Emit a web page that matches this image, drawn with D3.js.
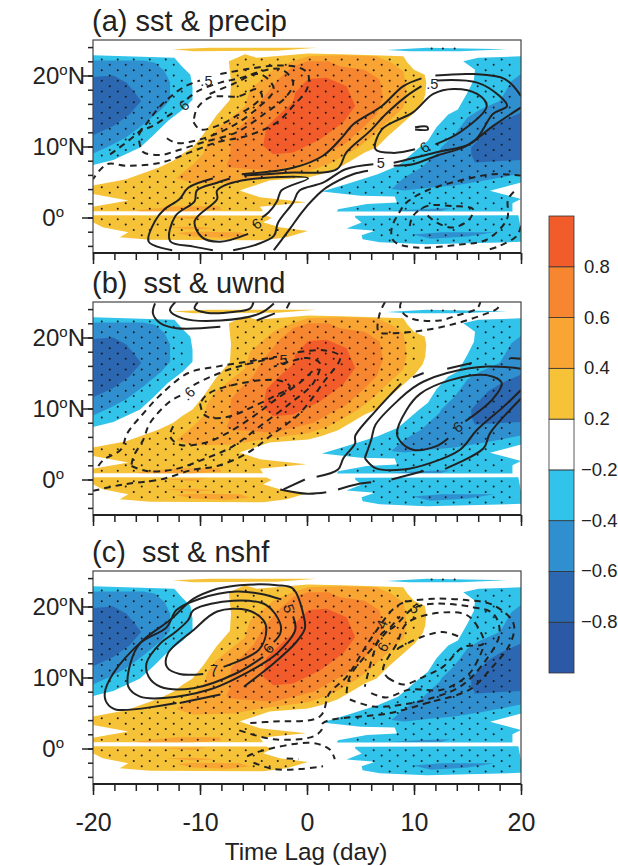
<!DOCTYPE html>
<html>
<head>
<meta charset="utf-8">
<script src="https://cdn.jsdelivr.net/npm/d3@7/dist/d3.min.js"></script>
<style>
    html, body { margin: 0; padding: 0; background: #fff; }
    text { font-family: "Liberation Sans", Arial, sans-serif; fill: #222; }
    .domain { display: none; }
    .tick line { stroke: #222; stroke-width: 1.5; }
</style>
</head>
<body>
<div id="chart"></div>
<script>

// sst lag correlation, contour outlines read as [ lag (day), lat (deg) ]

var sstPos02 = [
    [ [-5.8,23],[-4.7,22.5],[.1,23.1],[3.2,23],[6.3,22.85],[9,22.7],[9.4,21.8],[10,20.8],[11,20.1],[11.15,19],[11.05,17.3],[10.8,16.2],[10.06,14.8],[8.8,13.1],[7.6,11.5],[6.5,9.85],[5.4,9.15],[4.1,8],[2.9,6.95],[1.3,6.1],[.09,5.65],[-3.5,5.2],[-6.3,3.8],[-4.4,2.85],[-.06,2.14],[-4.4,1.5],[-4.1,.87],[-20,.87],[-20,1.5],[-16.7,2.4],[-20,3.3],[-20,4.5],[-16.9,5.4],[-13.9,7],[-12.5,8],[-11.6,9],[-10.7,9.85],[-9.7,11.7],[-8.5,14.3],[-7.2,16.6],[-7.1,19],[-7.3,22] ],
    [ [-20,.3],[-3.8,.27],[-3.3,-.06],[-4.1,-.66],[-2.55,-1.36],[.09,-1.9],[-1.9,-2.77],[-4.1,-3.2],[-14.7,-3.14],[-17.5,-2.77],[-16.7,-2.07],[-19.1,-1.36],[-20,-.66] ],
    [ [-12.55,23.7],[-9.1,23.9],[.9,23.9],[-2.8,23.5],[-10.6,23.4] ]
];

var sstPos04 = [
    [ [-5.33,18],[-3.15,20.8],[-1.3,22.05],[.09,22.7],[3.2,22.85],[6.5,22.7],[7.9,21.8],[9,20.6],[9.2,19],[9.3,17.3],[9,15.5],[8.3,14.5],[7.1,12.9],[6,11.3],[4.8,9.85],[3.2,8.45],[2,7.5],[.09,6.5],[-3.8,5.74],[-6.9,4.94],[-10.65,4.8],[-12.2,5.55],[-10.65,7.5],[-9.7,8.9],[-9.25,10.8],[-8.5,12.4],[-7.5,13.6],[-5.8,15.65] ],
    [ [-16,1],[-12.2,1.58],[-8.2,1.58],[-8,1.1],[-10.65,.88],[-15.6,.88] ],
    [ [-12.2,-2.2],[-10.65,-2],[-6.3,-2.06],[-5.35,-2.53],[-7.5,-2.86],[-10.65,-2.67] ],
    [ [-13.5,.05],[-9.4,.13],[-10.65,-.2] ],
    [ [-13.3,-1.36],[-10.65,-1.3],[-8.5,-1.5],[-10.65,-1.7] ]
];

var sstPos06 = [
    [ [.09,22],[2,22],[3.05,21.3],[5.4,20.8],[6.8,19.4],[7.1,16.9],[6.5,14.5],[5.07,12.4],[3.5,10.3],[2.8,9.85],[.6,8],[-3.15,6.6],[-7.35,7.06],[-7.5,7.5],[-7.2,8.45],[-7.1,11.3],[-6.3,12.7],[-5.05,14.5],[-4.1,16.9],[-2.55,19.7],[-1.3,21.3] ]
];

var sstPos08 = [
    [ [.12,19.5],[1.84,19.7],[3.7,18.5],[4.5,15.7],[3.4,13.4],[1.2,11],[-1.3,9.15],[-3.15,8.9],[-4.1,10.1],[-3.8,12.7],[-2.4,14.8],[-1.3,16.2],[-1.1,17.6] ]
];

var sstNeg02 = [
    [ [-20,22.85],[-12.4,22.5],[-11.7,21.3],[-10.9,20.1],[-10.7,18.3],[-10.7,16.6],[-11.6,15.2],[-13,13.6],[-14.4,11.5],[-15.6,9.85],[-18.1,8.1],[-20,7.4] ],
    [ [14.6,22],[16,22.5],[20,22.7],[20,4.93],[17.1,3.76],[20,2.6],[19.2,2],[19.2,.85],[2.8,.85],[2.9,1.17],[5.6,1.9],[8.4,2.1],[8.2,2.96],[5,3.05],[1.4,3.66],[4.1,4.9],[6.6,6.1],[8.5,7.3],[9.4,8.45],[10.5,9.85],[11.3,10.8],[12.1,12.7],[13.2,14.5],[14.1,15.2],[15,17.6],[15.6,19.4],[15.7,20.8] ],
    [ [4.5,.23],[19.75,.33],[20,-1.64],[20,-3.43],[11.2,-3.76],[6.8,-3.5],[5.2,-3.05],[5.1,-2.5],[6.35,-1.88],[3.7,-1.55],[5.1,-.7],[4.5,0] ],
    [ [7.45,23.6],[11.2,23.9],[18.7,23.7],[14.3,23.4],[9.6,23.4] ]
];

var sstNeg04 = [
    [ [-20,22.1],[-15.3,22.1],[-14.2,21.8],[-13.3,20.6],[-12.8,19],[-12.8,16.6],[-13.6,15.2],[-15.3,13.1],[-16.9,11.3],[-18.4,10.1],[-20,9] ],
    [ [20,20.2],[19.1,19.2],[18.5,17.6],[18,16.4],[16.2,15.2],[15,14.1],[13.8,11.7],[12.55,9.85],[12.4,9.4],[10.7,7.05],[9.1,5.65],[7.9,4],[9.1,3.8],[11.9,4.25],[13.8,4.5],[16.6,5.2],[20,6.2] ],
    [ [7.7,.9],[11,1.2],[13.4,1.3],[12.5,.9] ],
    [ [9.9,-2.4],[12.55,-2.07],[17.5,-2.07],[15.05,-2.67],[11.6,-3] ]
];

var sstNeg06 = [
    [ [-20,19.8],[-18.1,20],[-16.9,19],[-16.1,17.6],[-15.5,16.4],[-16.6,14.5],[-18.1,12.9],[-20,11.6] ],
    [ [20,14.8],[18.2,13.6],[16.9,12.4],[15.35,9.85],[15.35,8.9],[15.7,7.75],[20,8.1] ]
];

// overlay correlation lines, one list per panel

var precipSolid = [
    [ [-12.6,-4.6],[-14.8,-3.4],[-14.2,-.5],[-13.3,1.2],[-11.9,2.6],[-11.1,4.2],[-8.8,5.5] ],
    [ [-6.1,6.1],[-1.3,7],[1.5,8.7],[3.4,11.5],[4.3,13.1],[7,15.7],[9,18.5],[10.7,19.6] ],
    [ [12,20],[15.5,20.2],[18.5,19.5],[20,17.1] ],
    [ [-8.8,-4.6],[-10.6,-4.1],[-12.8,-3.3],[-12.3,.2],[-10.5,2.3],[-10.3,3.8],[-8.4,4.9],[-7.2,5.5] ],
    [ [-5.9,5.9],[-1.9,6.3],[2.8,6.8],[3.7,9.2],[5.9,12.2],[7.4,14.6],[9.3,17.1],[10.7,18.5] ],
    [ [12.1,19.3],[15.9,19],[18,17.1],[18.7,15.7],[17.4,14.6],[15.5,10.6],[12.1,9.2],[8.1,7.7] ],
    [ [-4.2,0],[-3.6,.7],[-2.8,2.3],[-2.4,3.8],[.1,5.5],[-6.1,5.2],[-8.4,3.8],[-8.4,2.6],[-10.5,-.5],[-9.8,-2.8],[-8.1,-3.4],[-5.5,-2.3] ],
    [ [-6.9,-4.6],[-4.7,-3.8],[-3.1,-2.6],[-2.7,-.7],[-1.3,2.1],[-.7,3.8],[1.5,4.9],[3.6,6.8],[6.2,7.5] ],
    [ [-3.1,-4.6],[-1.6,-1.6],[-.5,.7],[.6,2.6],[1.8,4.2],[4.3,6.1],[5.7,6.6] ],
    [ [8.1,7.3],[9.9,7.5],[12.1,8.7],[14.9,10.1],[17.4,12.9],[20,15.5] ],
    [ [12,10.3],[14.3,12],[16.8,15.7],[15.9,17.4],[13.7,18.1],[11.8,17.4],[9.9,14.8],[7,12.4],[6.4,9.6],[8.1,9.1],[10.1,9.6] ],
    [ [10.1,12.7],[11.2,12.8],[11.3,12.4],[10.1,12.4] ]
];

var precipDashed = [
    [ [-18.4,8.9],[-15.6,12.2],[-13.7,15.7],[-11.6,18.3],[-10,19.3] ],
    [ [-8.1,20.2],[-5.6,20.9],[-2.8,21.4],[-.7,21.1],[.1,20.2],[0,18.1],[-1.3,15.7],[-2.8,13.4],[-5.6,11.5],[-8.4,10.6],[-10.9,9.2],[-13.7,7.7],[-16.9,7.3],[-18.7,7.5],[-20,5.4] ],
    [ [-11.2,16.7],[-10.2,17.8],[-8.1,19],[-6.6,19.5],[-2.5,20.9],[-1.3,19],[-1.9,17.1],[-3.8,14.8],[-6.6,12],[-9.7,10.6],[-12.2,9.4],[-13.7,8.8],[-15.3,9.2],[-15.6,10.1],[-15.6,12],[-14.4,12.9],[-12.5,14.8] ],
    [ [-9.1,17.4],[-6.9,18.8],[-4.4,20.2],[-3.1,18.1],[-4.7,15.3],[-7.2,12.7],[-10,11],[-12.2,10.5],[-13.4,11.5] ],
    [ [-10.6,13.4],[-10,12.4],[-8.4,12.9],[-6.6,14.3],[-4.7,16.2],[-4.2,17.1],[-4.7,18.1],[-6.3,17.1],[-9.1,16.9],[-10.3,15.3],[-10.6,13.4] ],
    [ [20,5.9],[17.4,6.1],[14.3,5.2],[11.2,3.8],[9.3,2.1],[8.7,.9],[7.9,-1.6],[8.1,-3.3],[9.9,-4.2],[14.3,-3.8],[16.8,-3.1],[18.7,-.2],[18.8,2.6],[19.6,4] ],
    [ [9.6,-1.2],[9.9,.2],[11.2,1.6],[13.7,1.6],[15.5,1.2],[15.2,-.2],[13.7,-1.4],[12.1,-.7],[11,.7] ],
    [ [20,-1.2],[19.6,-2.6],[18,-4],[16.8,-4.6] ]
];

var uwndSolid = [
    [ [-14.2,24.8],[-14.4,23.4],[-13.7,22],[-12.2,21.3],[-8.1,21.5] ],
    [ [-4.7,22.4],[-3,23.4] ],
    [ [-12.3,25],[-12.8,23.8],[-11.6,22.7],[-8.1,22.4],[-4.4,23.4],[-3.1,24.8] ],
    [ [-10.2,25],[-10.5,24.1],[-9.4,23.5],[-6.9,23.6],[-5.3,24.1],[-5,25] ],
    [ [-1.9,24.1],[-1.6,25] ],
    [ [5.4,3],[6,5.6],[6.4,7.7],[8.7,11.4],[9.9,12.9],[10.9,13.8],[13.1,15],[16.8,15.9],[20,15.6] ],
    [ [13.2,5.8],[12.1,4.7],[9.9,4.2],[8.7,5.4],[8.4,6.5],[9.3,9.8],[10.6,12.1],[13.4,14],[16.8,14.7],[18.2,13.6],[17.4,11.4],[14.8,8.2] ],
    [ [5.4,3],[6.4,1.6],[9,1.4],[11.5,2.3],[14.3,4.2],[15.9,7],[18.4,10.3],[20,12.6] ],
    [ [12.9,1.5],[16.5,4.4],[17.1,6.5],[20,11.4] ],
    [ [7.9,0],[10.9,1.2] ],
    [ [19,17.1],[20,17] ],
    [ [-2.5,-1.4],[0,-2],[1.8,-1.8] ],
    [ [2.9,-1.4],[4.6,-.7],[6,-.4] ],
    [ [-2.2,-1.4],[-.2,0] ],
    [ [.9,.4],[2.9,1.4],[3.4,3],[4.5,5.1],[4.5,6.1],[6.5,9.8],[8.8,13.5] ],
    [ [9.9,14.4],[10.9,15] ],
    [ [13.1,15.6],[15.4,16.4] ]
];

var uwndDashed = [
    [ [7.3,25],[6.8,23.4],[6.7,20.8],[8.1,20.6],[10.9,21],[14,22],[16.8,23.4],[17.8,24.1],[18,24.8] ],
    [ [8.8,25],[8.7,24.3],[9,23.4],[9.9,22.6],[12.4,22.4],[14,23.1],[15.9,24.1],[16.2,25] ],
    [ [-19.5,1.9],[-19,2.8],[-17.4,4.2],[-16.8,6.5],[-15.3,9.3],[-13.7,11.9],[-11.1,15],[-8.4,15.9],[-5.6,16.6],[-2.8,17.3] ],
    [ [-16.4,2.1],[-16.2,3.3],[-15.3,5.6],[-14.7,7.9],[-12.8,11],[-11.7,11.9] ],
    [ [-10.6,13.3],[-9.7,14],[-6.9,15.7],[-3.1,17.1] ],
    [ [-20,-1.6],[-17.2,-.7],[-13.7,0],[-10.6,1.4],[-8.4,1.9],[-5.6,3.7],[-3.1,6.5],[-.7,9.3],[1.5,13.6],[3.1,17.3],[1.5,18.2],[-1.3,17.8] ],
    [ [-16.4,1.9],[-15,1.2],[-12.5,1.4],[-9.4,3],[-6.9,4.7],[-4.4,7.5],[-1.6,10.7],[.6,13.6],[1.2,16.4],[0,17.1],[-1.6,16.6],[-3.1,15.9] ],
    [ [-12.5,7.5],[-12.8,6.1],[-11.9,4.9],[-9.7,5.1],[-7.5,6.5],[-5,8.9],[-2.8,11.4],[-.7,13.6],[.6,15.4] ],
    [ [-10,10.7],[-9.7,9.3],[-9.1,8.7],[-7.2,8.9],[-5,10.3],[-3.1,11.7],[-1.6,13.1],[-2.8,14],[-7.5,13.1],[-9.4,11.9],[-10,10.7] ]
];

var nshfSolid = [
    [ [-5.9,8.7],[-3.1,12],[-1,15],[-.2,16.9],[-.3,18.6],[-1.3,22.5],[-2.8,23],[-6.3,23],[-8.4,22.5] ],
    [ [-8.1,7.6],[-11.9,6.4] ],
    [ [-12.2,6.4],[-17.9,5.5],[-18.7,6.4],[-18.9,7.8],[-18.1,10.6],[-15.3,15.3],[-12.8,18.1],[-10.6,21.1],[-8.4,22.5] ],
    [ [-2.4,21],[-4.4,21.8],[-6.6,22.1],[-10,21.1],[-12.2,19.5],[-13.1,17.1],[-15.6,14.8],[-16.5,12],[-16.7,8.7],[-15.6,7.3],[-13.4,7.1],[-9.1,8.3],[-6.6,9.9],[-4.1,12],[-2.8,13.4],[-1.1,16.7],[-1.3,18.6] ],
    [ [-3.1,15],[-2.5,16.2],[-2.5,17.6],[-3.8,20.2],[-6.9,20.8],[-10.6,19.5],[-11.1,18.1],[-12.3,16.4],[-13.7,14.8],[-15,12],[-14.8,10.1],[-13.7,8.7],[-10.6,8.5],[-6.6,10.6],[-4.1,12.9] ],
    [ [-9.7,10.5],[-11.9,10.5],[-13.1,11.5],[-13,13.4],[-10.6,16.7],[-8.4,19.3],[-5.6,19.5],[-4.1,18.1],[-3.8,16.7],[-4.5,13.9],[-7.8,11.5] ]
];

var nshfDashed = [
    [ [9.2,20.7],[11.8,21.1],[14.9,20.9],[17.4,20.2],[19.3,17.6],[19,14.8],[17.1,11.1],[15.2,8.3],[11.2,6.4],[7.8,5],[1.5,3.6],[1.4,2.7],[.6,1.7],[-3.1,1.3],[-6.6,2.7] ],
    [ [-5.3,3.6],[-3.1,3.8],[1.2,4.5],[2.1,7.8],[3.7,10.1],[5.9,15.3],[8.1,19.7],[9.2,20.7] ],
    [ [-5.6,-1.1],[-4.4,-.4],[.3,.8],[2.1,-.1],[2.6,-1.5] ],
    [ [-5,-2],[-3.1,-2.9],[-.7,-2.9],[1.5,-2.5] ],
    [ [-1.9,-1.4],[-.8,-1.5] ],
    [ [7.6,9.9],[9,9],[10.9,10.1],[12.7,11.5],[14.6,14.3],[16.5,14.8],[15.5,18.1],[14.6,19],[11.8,19],[9.3,17.6],[8.4,14.8],[7.1,11.1],[7.6,9.9] ],
    [ [4,6.9],[6.2,5.9],[9,6.2],[11.2,6.9],[14.3,8.7],[16.5,12],[18,16.2],[17.4,19],[15.5,19.9],[11.8,20.4],[9.9,19.7],[8.1,17.1],[7,16.2],[5.4,8.7] ],
    [ [8.5,14.1],[10.7,15.7],[12.7,16.4],[14.3,15.7] ],
    [ [3.7,7.8],[4,10.1],[6.5,14.8],[8.7,18.6] ],
    [ [6,7.8],[7.4,7.2],[9.6,8.3],[12.7,8.3],[15.2,10.6],[16.5,14.3] ]
];

// line labels: [ lag, lat, text ]

var precipLabels = [ [-9.4,19.2,'.5'], [-11.5,15.8,'6'], [11.7,18.8,'.5'], [-4.7,-.9,'6'], [11,9.9,'6'], [6.9,7.7,'5'] ];
var uwndLabels = [ [-2.2,16.8,'5'], [-11.1,12.1,'.6'], [14.1,7.4,'6'] ];
var nshfLabels = [ [-1.7,19.7,'5'], [-3.6,14.1,'6'], [-8.7,11.1,'7'], [10.1,19.7,'5'], [7,17.5,'4'], [7.1,14.3,'6'] ];

// the few dots inside the thin strip at the top right
var stippleTopStrip = [ [11.65,23.8], [12.7,23.8], [13.8,23.8] ];

var panelTitles = [ '(a) sst & precip', '(b)  sst & uwnd', '(c)  sst & nshf' ];
var panelTops = [ 40, 302, 571 ];

var bandValues = [ -0.8, -0.6, -0.4, -0.2, 0.2, 0.4, 0.6, 0.8 ];
var bandColors = [ '#2c59a6', '#2b68b1', '#308fcf', '#31c3e9', '#ffffff', '#f5c238', '#f9a533', '#f68630', '#f25c2a' ];

var majorLags = [ -20, -10, 0, 10, 20 ];
var majorLats = [ 0, 10, 20 ];
var latNames = [ '0', '10', '20' ];

var width = 618,
    height = 866,
    plotW = 428,
    plotH = 213,
    plotX = 93;

var svg = d3.select( '#chart' ).append( 'svg' )
    .attr( 'width', width )
    .attr( 'height', height )
    .style( 'display', 'block' );

var x = d3.scaleLinear().domain( [ -20, 20 ] ).range( [ 0, plotW ] );
var y = d3.scaleLinear().domain( [ -5, 25 ] ).range( [ plotH, 0 ] );

var linePath = d3.line()
    .x( function ( d ) { return x( d[ 0 ] ) } )
    .y( function ( d ) { return y( d[ 1 ] ) } );

var smoothPath = d3.line()
    .x( function ( d ) { return x( d[ 0 ] ) } )
    .y( function ( d ) { return y( d[ 1 ] ) } )
    .curve( d3.curveCatmullRom.alpha( 0.5 ) );

var fillLayers = [
    [ sstPos02, bandColors[ 5 ] ], [ sstPos04, bandColors[ 6 ] ], [ sstPos06, bandColors[ 7 ] ], [ sstPos08, bandColors[ 8 ] ],
    [ sstNeg02, bandColors[ 3 ] ], [ sstNeg04, bandColors[ 2 ] ], [ sstNeg06, bandColors[ 1 ] ]
];

svg.append( 'defs' ).append( 'clipPath' ).attr( 'id', 'plot-clip' )
    .append( 'rect' ).attr( 'width', plotW ).attr( 'height', plotH );

// significance dots sit on a staggered lattice, kept only inside the shading

var latticeRows = d3.range( -12, 25 ).map( function ( k ) { return 5.0 + k * 0.75 } );
var outerPolygons = sstPos02.slice( 0, 2 ).concat( sstNeg02.slice( 0, 3 ) );

function insideShading ( lag, lat ) {

    return outerPolygons.some( function ( poly ) {

        return d3.polygonContains( poly, [ lag - 0.5, lat ] ) && d3.polygonContains( poly, [ lag + 0.5, lat ] ) &&
            d3.polygonContains( poly, [ lag, lat + 0.1 ] ) && d3.polygonContains( poly, [ lag, lat - 0.1 ] );

    });

}

var stipple = stippleTopStrip.slice();

latticeRows.forEach( function ( lat, i ) {

    var shift = ( i % 2 === 0 ) ? 0 : 0.75;

    d3.range( -20, 20, 1.495 ).forEach( function ( lag ) {

        var l = lag + 0.07 + shift;
        if ( insideShading( l, lat ) ) stipple.push( [ l, lat ] );

    });

});

function drawPanel ( top, title, solid, dashed, labels, tilt, showLagLabels ) {

    var g = svg.append( 'g' ).attr( 'transform', 'translate(' + plotX + ',' + top + ')' );
    var inner = g.append( 'g' ).attr( 'clip-path', 'url(#plot-clip)' );

    fillLayers.forEach( function ( layer ) {

        inner.selectAll( null ).data( layer[ 0 ] ).enter().append( 'path' )
            .attr( 'd', function ( d ) { return linePath( d ) + 'Z' } )
            .attr( 'fill', layer[ 1 ] );

    });

    inner.selectAll( 'circle' ).data( stipple ).enter().append( 'circle' )
        .attr( 'cx', function ( d ) { return x( d[ 0 ] ) } )
        .attr( 'cy', function ( d ) { return y( d[ 1 ] ) } )
        .attr( 'r', 1 )
        .attr( 'fill', '#1a1a1a' );

    inner.selectAll( '.solid' ).data( solid ).enter().append( 'path' )
        .attr( 'class', 'solid' )
        .attr( 'd', smoothPath )
        .attr( 'fill', 'none' )
        .attr( 'stroke', '#222' )
        .attr( 'stroke-width', 2 );

    inner.selectAll( '.dashed' ).data( dashed ).enter().append( 'path' )
        .attr( 'class', 'dashed' )
        .attr( 'd', smoothPath )
        .attr( 'fill', 'none' )
        .attr( 'stroke', '#222' )
        .attr( 'stroke-width', 2 )
        .attr( 'stroke-dasharray', '6.5,5' );

    g.selectAll( '.clabel' ).data( labels ).enter().append( 'text' )
        .attr( 'class', 'clabel' )
        .attr( 'text-anchor', 'middle' )
        .attr( 'dy', '0.35em' )
        .attr( 'font-size', 14.5 )
        .attr( 'transform', function ( d, i ) {
            return 'translate(' + x( d[ 0 ] ) + ',' + y( d[ 1 ] ) + ') rotate(' + tilt[ i ] + ')';
        })
        .text( function ( d ) { return d[ 2 ] } );

    // frame

    g.append( 'rect' )
        .attr( 'width', plotW ).attr( 'height', plotH )
        .attr( 'fill', 'none' )
        .attr( 'stroke', '#444' )
        .attr( 'stroke-width', 1.2 );

    g.append( 'line' )
        .attr( 'x1', 0 ).attr( 'x2', plotW ).attr( 'y1', plotH ).attr( 'y2', plotH )
        .attr( 'stroke', '#222' ).attr( 'stroke-width', 2 );

    // axes

    g.append( 'g' ).attr( 'transform', 'translate(0,' + plotH + ')' )
        .call( d3.axisBottom( x ).tickValues( d3.range( -20, 21, 2 ) ).tickSize( 7 ).tickFormat( '' ) );

    var lagAxis = g.append( 'g' ).attr( 'transform', 'translate(0,' + plotH + ')' )
        .call( d3.axisBottom( x ).tickValues( majorLags ).tickSize( 11 ).tickPadding( 18 ).tickFormat( showLagLabels ? d3.format( 'd' ) : '' ) );

    lagAxis.selectAll( 'text' ).attr( 'font-size', 25 ).attr( 'fill', '#222' )
        .text( function ( d ) { return showLagLabels ? String( d ) : '' } );

    g.append( 'g' )
        .call( d3.axisLeft( y ).tickValues( d3.range( -4, 25, 2 ) ).tickSize( 5 ).tickFormat( '' ) );

    g.append( 'g' )
        .call( d3.axisLeft( y ).tickValues( majorLats ).tickSize( 11 ).tickFormat( '' ) );

    majorLats.forEach( function ( lat, i ) {

        var t = g.append( 'text' )
            .attr( 'x', lat === 0 ? -29 : -8 )
            .attr( 'y', y( lat ) + 8 )
            .attr( 'text-anchor', 'end' )
            .attr( 'font-size', 24 );

        t.append( 'tspan' ).text( latNames[ i ] );
        t.append( 'tspan' ).attr( 'dy', -9 ).attr( 'font-size', 15 ).text( 'o' );
        if ( lat !== 0 ) t.append( 'tspan' ).attr( 'dy', 9 ).text( 'N' );

    });

    svg.append( 'text' )
        .attr( 'x', plotX - 1 )
        .attr( 'y', top - 9 )
        .attr( 'font-size', 29 )
        .style( 'white-space', 'pre' )
        .text( title );

}

drawPanel( panelTops[ 0 ], panelTitles[ 0 ], precipSolid, precipDashed, precipLabels, [ 0, -40, 0, -35, -35, 0 ], false );
drawPanel( panelTops[ 1 ], panelTitles[ 1 ], uwndSolid, uwndDashed, uwndLabels, [ 0, -45, -35 ], false );
drawPanel( panelTops[ 2 ], panelTitles[ 2 ], nshfSolid, nshfDashed, nshfLabels, [ 70, -50, 0, 45, -70, -60 ], true );

svg.append( 'text' )
    .attr( 'x', plotX + plotW / 2 - 1 )
    .attr( 'y', 860 )
    .attr( 'text-anchor', 'middle' )
    .attr( 'font-size', 24.3 )
    .text( 'Time Lag (day)' );

// colour bar

var barX = 549,
    barW = 25,
    barScale = d3.scaleBand().domain( d3.range( bandColors.length ) ).range( [ 673, 216 ] );

svg.selectAll( '.swatch' ).data( bandColors ).enter().append( 'rect' )
    .attr( 'class', 'swatch' )
    .attr( 'x', barX )
    .attr( 'y', function ( d, i ) { return barScale( i ) } )
    .attr( 'width', barW )
    .attr( 'height', barScale.bandwidth() )
    .attr( 'fill', function ( d ) { return d } )
    .attr( 'stroke', '#333' )
    .attr( 'stroke-width', 0.8 );

svg.selectAll( '.barlabel' ).data( bandValues ).enter().append( 'text' )
    .attr( 'class', 'barlabel' )
    .attr( 'x', function ( d ) { return d > 0 ? 584 : 581 } )
    .attr( 'y', function ( d, i ) { return barScale( i ) + 6 } )
    .attr( 'font-size', 18.5 )
    .text( function ( d ) { return d3.format( '.1f' )( d ) } );

</script>
</body>
</html>
